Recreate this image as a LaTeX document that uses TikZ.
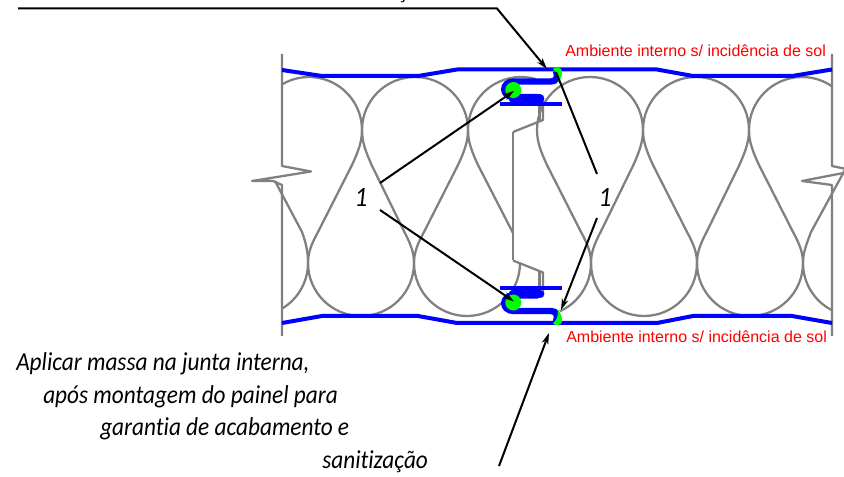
\documentclass[tikz,border=0pt]{standalone}
\usepackage{fontspec}
\setmainfont{Liberation Sans}
\newfontfamily\notefont[FakeStretch=0.9,Ligatures=NoCommon]{Carlito}
\usetikzlibrary{arrows.meta}

\newcommand{\jointprofile}{
  \draw[core] (539.5,100) -- (539.5,120);
  \draw[core] (543,99) -- (543,120) -- (513,132);
  \draw[skin, line width=4.8pt] (556,71) .. controls (558,76) and (557,81.5) .. (551,81.5) -- (514,81.5)
        .. controls (501,81.5) and (501,97) .. (514,97) -- (538,97);
  \draw[skin, line width=6.6pt, line cap=round] (513,98.5) -- (540,98.5);
  \draw[skin, line width=2.8pt] (500,104.3) -- (562,104.3);
  \fill[seal] (513.3,90) circle (8);
  \fill[seal] (553,69) .. controls (556,66.5) and (561,67) .. (562,71) .. controls (562.5,76) and (560,80) .. (558,83) .. controls (558.5,77) and (557,73) .. cycle;
}

\begin{document}
\begin{tikzpicture}[x=0.75pt,y=-0.75pt,>={Stealth[length=8.5pt,width=5pt]},
  core/.style={draw=black!50,line width=1.7pt,line join=round},
  skin/.style={draw=blue,line width=3pt},
  seal/.style={fill=green},
  leader/.style={draw=black,line width=1.5pt},
  redtext/.style={text=red,font=\fontsize{12pt}{14pt}\selectfont,anchor=base west,inner sep=0pt},
  note/.style={text=black,font=\notefont\itshape\fontsize{19.4pt}{22pt}\selectfont,anchor=base west,inner sep=0pt},
  number/.style={text=black,font=\notefont\itshape\fontsize{21pt}{22pt}\selectfont,inner sep=0pt}]
  \useasboundingbox (0,0) rectangle (844,477);

  % panel edges with break marks
  \draw[core] (282,54) -- (282,166) -- (311,171.5) -- (252,181) -- (273,181) -- (282,185) -- (282,336);
  \draw[core] (832,54) -- (832,166) -- (846,169);
  \draw[core] (846,172.5) -- (802,181) -- (832,185) -- (832,336);

  % insulation loops
  \draw[core] (282,84.4) arc (239.4:360:53);
  \foreach \cx in {415,590,696}
    \draw[core] (\cx-53,130) arc (180:360:53);
  \draw[core] (468,130) arc (180:286.4:53);
  \draw[core] (749,130) arc (180:304.5:53);
  \foreach \cx in {361,467,644,750}
    \draw[core] (\cx-53,263) arc (180:0:53);
  \draw[core] (308,263) arc (0:59.4:53);
  \draw[core] (591,263) arc (0:65.5:53);
  \draw[core] (803,263) arc (180:117:53);
  \foreach \px/\bx in {362/308,362/414,468/414,537/591,643/591,643/697,749/697,749/803}{
    \pgfmathsetmacro{\d}{\bx-\px}
    \draw[core] (\px,130) .. controls (\px,142) and (\px+0.074*\d,152) .. (\px+0.185*\d,165)
        -- (\px+0.815*\d,232) .. controls (\bx-0.074*\d,243) and (\bx,252) .. (\bx,263);
  }
  \draw[core] (468,130) .. controls (468,142) and (472,152) .. (478,165) -- (513,233);
  \draw[core] (275,181) -- (302,232) .. controls (306,243) and (308,252) .. (308,263);
  \draw[core] (846,168) -- (811,232) .. controls (807,243) and (803,252) .. (803,263);

  % centre stud
  \draw[core] (513,132) -- (513,260);

  % facing sheets
  \draw[skin] (282,70) -- (322,76) -- (418,76) -- (457,69.5) -- (657,69.5) -- (693,76) -- (792,76) -- (832,69.5);
  \draw[skin] (282,323) -- (322,316) -- (418,316) -- (457,323) -- (657,323) -- (693,316) -- (792,316) -- (832,323);

  \jointprofile
  \begin{scope}[y=0.75pt,yshift=-294.375pt]
    \jointprofile
  \end{scope}

  % labels
  \node[redtext] (roomtop) at (565,57) {Ambiente interno s/ incidência de sol};
  \node[redtext] (roombot) at (566,343) {Ambiente interno s/ incidência de sol};
  \node[number] (numleft) at (361,197) {1};
  \node[number] (numright) at (605,197) {1};
  \node[note] (noteA) at (16,371) {Aplicar massa na junta interna,};
  \node[note] (noteB) at (43,404) {após montagem do painel para};
  \node[note] (noteC) at (100,436) {garantia de acabamento e};
  \node[note] (noteD) at (322,469) {sanitização};
  \node[note] (cuttext) at (398,-1) {ç};

  % leaders
  \coordinate (topstart) at (18,8.5);
  \coordinate (topbend) at (497,8.5);
  \coordinate (toptip) at (547,69);
  \coordinate (bottomstart) at (499,466);
  \coordinate (bottomtip) at (549,333);
  \coordinate (dotA) at (514,91);
  \coordinate (dotB) at (514,301.5);
  \coordinate (jointA) at (556,72);
  \coordinate (jointB) at (561,310);
  \coordinate (numleftA) at (380,183);
  \coordinate (numleftB) at (380,210);
  \coordinate (numrightA) at (597,174);
  \coordinate (numrightB) at (597,218);

  \draw[leader,->] (topstart) -- (topbend) -- (toptip);
  \draw[leader,->] (bottomstart) -- (bottomtip);
  \draw[leader,->] (numleftA) -- (dotA);
  \draw[leader,->] (numleftB) -- (dotB);
  \draw[leader] (numrightA) -- (jointA);
  \draw[leader,->] (numrightB) -- (jointB);
\end{tikzpicture}
\end{document}
